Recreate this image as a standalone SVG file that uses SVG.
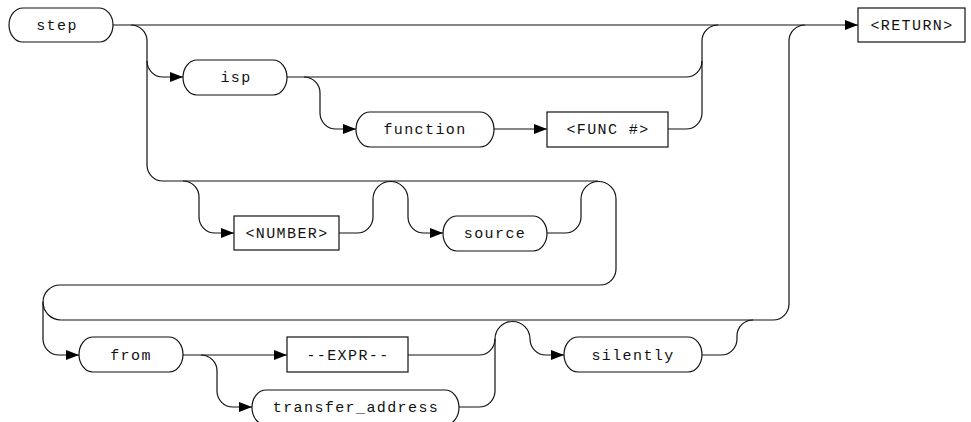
<svg xmlns="http://www.w3.org/2000/svg" width="971" height="422" viewBox="0 0 971 422">
<defs>
<marker id="arr" markerUnits="userSpaceOnUse" markerWidth="13" markerHeight="10" refX="13" refY="5" orient="auto">
<path d="M0,0 L13,5 L0,10 z" fill="#000"/>
</marker>
<style>
.n{fill:#fff;stroke:#111;stroke-width:1.2}
.c{fill:none;stroke:#111;stroke-width:1.2}
.a{marker-end:url(#arr)}
text{font-family:"Liberation Mono","DejaVu Sans Mono",monospace;font-size:15px;letter-spacing:1.4px;fill:#111;text-anchor:middle}
</style>
</defs>
<rect width="971" height="422" fill="#fff"/>
<g id="connectors">
<path class="c a" d="M113,25 H858"/>
<path class="c" d="M131,25 A16,16 0 0 1 147,41 V165 A16,16 0 0 0 163,181 H598"/>
<path class="c a" d="M147,61 A16,16 0 0 0 163,77 H183"/>
<path class="c" d="M287,77 H686 A16,16 0 0 0 702,61 V41 A16,16 0 0 1 718,25"/>
<path class="c a" d="M304,77 A16,16 0 0 1 320,93 V113 A16,16 0 0 0 336,129 H356"/>
<path class="c a" d="M494,129 H547"/>
<path class="c" d="M668,129 H686 A16,16 0 0 0 702,113 V61"/>
<path class="c a" d="M183,181 A16,16 0 0 1 199,197 V217 A16,16 0 0 0 215,233 H234"/>
<path class="c a" d="M339,233 H357 A16,16 0 0 0 373,217 V199 A17.5,17.5 0 0 1 408,199 V217 A16,16 0 0 0 424,233 H443"/>
<path class="c a" d="M547,233 H565 A16,16 0 0 0 581,217 V199 A17.5,17.5 0 0 1 616,199 V269 A16,16 0 0 1 600,285 H60 A17,17 0 0 0 43,302 V339 A16,16 0 0 0 59,355 H79"/>
<path class="c" d="M43,302 A18,18 0 0 0 61,320 H773 A16,16 0 0 0 789,304 V41 A16,16 0 0 1 805,25"/>
<path class="c a" d="M183,355 H287"/>
<path class="c a" d="M201,355 A16,16 0 0 1 217,371 V391 A16,16 0 0 0 233,407 H252"/>
<path class="c a" d="M408,355 H479 A16,16 0 0 0 495,339 A17.5,17.5 0 0 1 530,339 A16,16 0 0 0 546,355 H564"/>
<path class="c" d="M459,407 H479 A16,16 0 0 0 495,391 V339"/>
<path class="c" d="M702,355 H721 A16,16 0 0 0 737,339 V336 A16,16 0 0 1 753,320"/>
</g>
<g id="step"><rect class="n" x="9" y="8" width="104" height="34" rx="14" ry="17"/><text x="57" y="30">step</text></g>
<g id="return"><rect class="n" x="858" y="8" width="107" height="34"/><text x="912" y="30">&lt;RETURN&gt;</text></g>
<g id="isp"><rect class="n" x="183" y="60" width="104" height="35" rx="14" ry="17.5"/><text x="236" y="82">isp</text></g>
<g id="function"><rect class="n" x="356" y="112" width="138" height="35" rx="14" ry="17.5"/><text x="425" y="134">function</text></g>
<g id="func"><rect class="n" x="547" y="112" width="121" height="35"/><text x="608" y="134">&lt;FUNC #&gt;</text></g>
<g id="number"><rect class="n" x="234" y="216" width="105" height="34"/><text x="287" y="238">&lt;NUMBER&gt;</text></g>
<g id="source"><rect class="n" x="443" y="216" width="104" height="35" rx="14" ry="17.5"/><text x="495" y="238">source</text></g>
<g id="from"><rect class="n" x="79" y="337" width="104" height="35" rx="14" ry="17.5"/><text x="131" y="360">from</text></g>
<g id="expr"><rect class="n" x="287" y="337" width="121" height="35"/><text x="348" y="360">--EXPR--</text></g>
<g id="transfer_address"><rect class="n" x="252" y="390" width="207" height="35" rx="14" ry="17.5"/><text x="356" y="412">transfer_address</text></g>
<g id="silently"><rect class="n" x="564" y="337" width="138" height="35" rx="14" ry="17.5"/><text x="633" y="360">silently</text></g>
</svg>
